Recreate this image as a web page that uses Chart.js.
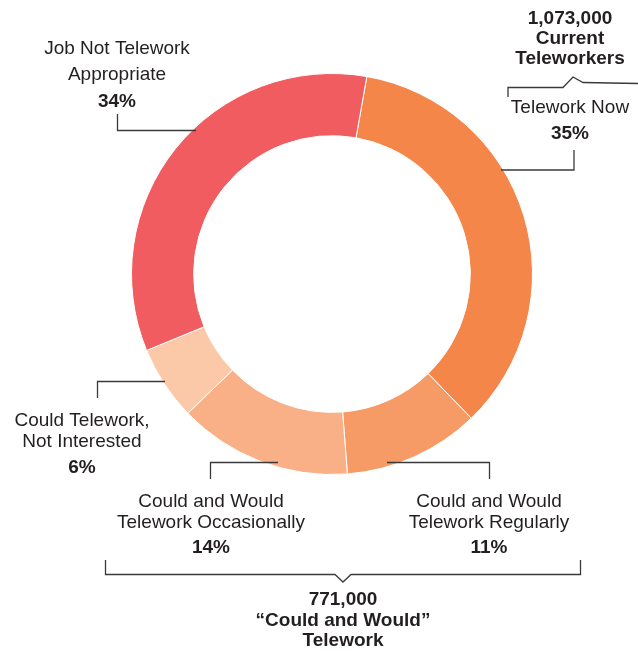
<!DOCTYPE html>
<html>
<head>
  <title>Telework Eligibility</title>
  <script src="https://cdn.jsdelivr.net/npm/chart.js"></script>
  <style>
    body { margin: 0; background: #fff; }
    canvas { display: block; }
  </style>
</head>
<body>
  <canvas id="chartTelework" width="638" height="651"></canvas>
  <script>
    const categories = ['Telework Now', 'Could and Would Telework Regularly', 'Could and Would Telework Occasionally', 'Could Telework, Not Interested', 'Job Not Telework Appropriate'];
    const shares = [35, 11, 14, 6, 34];
    const groupTotals = ['1,073,000', '771,000'];
    const groupNames = [['Current', 'Teleworkers'], ['\u201cCould and Would\u201d', 'Telework']];

    const sliceColors = ['#f4864a', '#f69b66', '#f9b087', '#fbc9a8', '#f05c5f'];
    const ink = '#231f20';
    const lineColor = '#3a3a3a';
    const regularFont = '19px "Liberation Sans", Arial, sans-serif';
    const boldFont = 'bold 19px "Liberation Sans", Arial, sans-serif';

    // label text split into lines, with x centre and baselines
    const labelBlocks = [
      { slice: 0, x: 570, lines: ['Telework Now'], ys: [113], pctY: 139 },
      { slice: 1, x: 489, lines: ['Could and Would', 'Telework Regularly'], ys: [507, 528], pctY: 553 },
      { slice: 2, x: 211, lines: ['Could and Would', 'Telework Occasionally'], ys: [507, 528], pctY: 553 },
      { slice: 3, x: 82, lines: ['Could Telework,', 'Not Interested'], ys: [426, 447], pctY: 473 },
      { slice: 4, x: 117, lines: ['Job Not Telework', 'Appropriate'], ys: [54, 80], pctY: 107 }
    ];

    const leaders = [
      [[574, 150], [574, 170], [501, 170]],
      [[489.5, 479], [489.5, 462.5], [387, 462.5]],
      [[210.5, 479], [210.5, 462.5], [278, 462.5]],
      [[97.5, 398], [97.5, 381.5], [165, 381.5]],
      [[117.5, 114], [117.5, 130.5], [196, 130.5]]
    ];

    const brackets = [
      [[508, 97], [508, 87.5], [563, 87.5], [573, 77], [583, 82.5], [638, 83.5]],
      [[105.5, 560], [105.5, 574.5], [335, 574.5], [343, 582], [351, 574.5], [580.5, 574.5], [580.5, 560]]
    ];

    const groupBlocks = [
      { x: 570, ys: [24, 44, 64] },
      { x: 343, ys: [605, 626, 646] }
    ];

    function strokePath(ctx, pts) {
      ctx.beginPath();
      pts.forEach((p, i) => i ? ctx.lineTo(p[0], p[1]) : ctx.moveTo(p[0], p[1]));
      ctx.stroke();
    }

    const annotations = {
      id: 'annotations',
      afterDraw(chart) {
        const ctx = chart.ctx;
        ctx.save();
        ctx.strokeStyle = lineColor;
        ctx.lineWidth = 1.3;
        leaders.forEach(p => strokePath(ctx, p));
        brackets.forEach(p => strokePath(ctx, p));

        ctx.fillStyle = ink;
        ctx.textAlign = 'center';
        ctx.textBaseline = 'alphabetic';
        labelBlocks.forEach(b => {
          ctx.font = regularFont;
          b.lines.forEach((t, i) => ctx.fillText(t, b.x, b.ys[i]));
          ctx.font = boldFont;
          ctx.fillText(shares[b.slice] + '%', b.x, b.pctY);
        });

        ctx.font = boldFont;
        groupBlocks.forEach((g, i) => {
          const lines = [groupTotals[i]].concat(groupNames[i]);
          lines.forEach((t, j) => ctx.fillText(t, g.x, g.ys[j]));
        });
        ctx.restore();
      }
    };

    new Chart(document.getElementById('chartTelework').getContext('2d'), {
      type: 'doughnut',
      data: {
        labels: categories,
        datasets: [{
          data: shares,
          backgroundColor: sliceColors,
          borderColor: '#ffffff',
          borderWidth: 1
        }]
      },
      options: {
        responsive: false,
        animation: false,
        rotation: 10,
        cutout: '69%',
        layout: { padding: { left: 131, right: 105, top: 73, bottom: 176 } },
        plugins: {
          legend: { display: false },
          tooltip: { enabled: false }
        }
      },
      plugins: [annotations]
    });
  </script>
</body>
</html>
